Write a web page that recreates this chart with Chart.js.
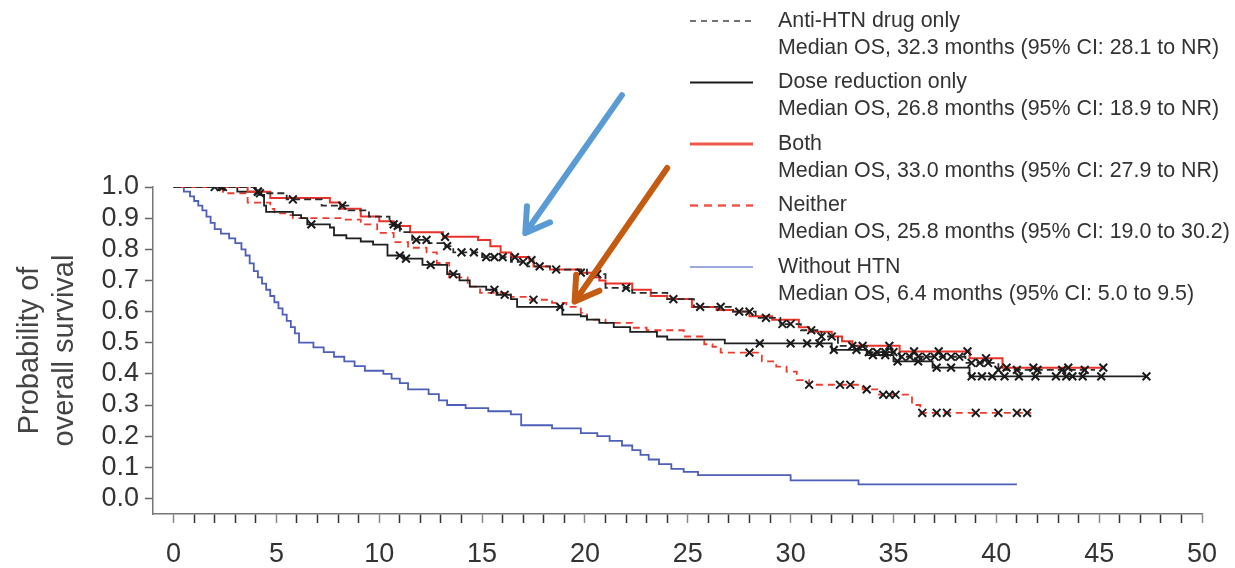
<!DOCTYPE html>
<html>
<head>
<meta charset="utf-8">
<title>Overall survival by HTN management</title>
<script src="https://cdn.jsdelivr.net/npm/chart.js@4.4.0/dist/chart.umd.min.js"></script>
<style>
  html, body { margin: 0; padding: 0; background: #fff; }
  #wrap { width: 1235px; height: 568px; }
</style>
</head>
<body>
<div id="wrap"><canvas id="chart" width="1235" height="568"></canvas></div>
<script>
// Kaplan-Meier steps per group: time of the step (months) and survival after it
const antiTimes = [0, 4.0, 5.5, 7.2, 8.5, 9.5, 10.5, 11.0, 11.6, 12.4, 13.1, 13.6, 15.0, 16.4, 17.2, 18.3, 20.1, 21.0, 22.3, 24.0, 25.3, 27.2, 28.3, 29.5, 30.5, 31.5, 32.3, 33.7, 35.3, 38.5, 40.1, 44.8];
const antiSurv = [1.0, 0.98, 0.96, 0.94, 0.925, 0.905, 0.88, 0.855, 0.83, 0.82, 0.81, 0.79, 0.775, 0.76, 0.745, 0.735, 0.72, 0.676, 0.66, 0.64, 0.615, 0.60, 0.58, 0.56, 0.54, 0.52, 0.49, 0.47, 0.455, 0.435, 0.413, 0.413];

const doseTimes = [0, 3.1, 4.2, 4.4, 4.5, 5.8, 6.2, 6.5, 7.6, 7.8, 8.4, 9.1, 9.7, 10.4, 11.2, 12.1, 13.3, 13.9, 14.4, 15.2, 15.7, 16.4, 16.7, 18.9, 19.8, 20.1, 20.7, 21.4, 22.2, 23.5, 24.0, 26.8, 32.0, 33.7, 35.0, 36.9, 38.7, 47.3];
const doseSurv = [1.0, 0.985, 0.975, 0.94, 0.92, 0.91, 0.90, 0.88, 0.87, 0.845, 0.835, 0.825, 0.815, 0.78, 0.77, 0.75, 0.72, 0.70, 0.68, 0.67, 0.654, 0.64, 0.615, 0.59, 0.585, 0.574, 0.564, 0.55, 0.535, 0.52, 0.51, 0.498, 0.477, 0.46, 0.44, 0.42, 0.392, 0.392];

const bothTimes = [0, 3.6, 4.7, 7.6, 8.1, 9.1, 10.0, 10.7, 11.5, 13.1, 14.8, 15.4, 15.9, 16.4, 17.3, 17.5, 18.3, 19.8, 20.4, 20.7, 21.0, 22.3, 23.2, 24.0, 25.2, 26.4, 27.2, 28.0, 29.1, 30.4, 30.9, 32.0, 32.5, 33.0, 35.3, 38.7, 40.3, 45.3];
const bothSurv = [1.0, 0.985, 0.965, 0.95, 0.93, 0.905, 0.89, 0.875, 0.855, 0.84, 0.83, 0.81, 0.79, 0.775, 0.765, 0.745, 0.735, 0.725, 0.71, 0.70, 0.69, 0.67, 0.65, 0.64, 0.615, 0.605, 0.60, 0.585, 0.574, 0.55, 0.535, 0.52, 0.505, 0.49, 0.472, 0.45, 0.42, 0.42];

const neitherTimes = [0, 2.4, 3.6, 4.7, 4.9, 5.5, 5.8, 8.3, 9.1, 9.9, 10.7, 11.4, 12.3, 12.8, 13.4, 14.3, 14.9, 16.4, 17.2, 18.4, 19.1, 19.8, 20.1, 21.0, 22.3, 23.0, 24.8, 25.8, 26.2, 26.6, 28.6, 29.3, 29.8, 30.3, 30.9, 33.5, 34.3, 35.9, 36.3, 41.7];
const neitherSurv = [1.0, 0.98, 0.95, 0.93, 0.915, 0.91, 0.90, 0.895, 0.88, 0.853, 0.823, 0.805, 0.79, 0.756, 0.71, 0.68, 0.66, 0.647, 0.638, 0.628, 0.615, 0.596, 0.574, 0.564, 0.548, 0.54, 0.52, 0.495, 0.487, 0.468, 0.44, 0.423, 0.407, 0.38, 0.365, 0.35, 0.333, 0.30, 0.275, 0.275];

const withoutTimes = [0, 0.5, 0.8, 1.0, 1.2, 1.4, 1.6, 1.8, 2.0, 2.3, 2.7, 3.0, 3.3, 3.5, 3.7, 3.9, 4.1, 4.3, 4.5, 4.7, 4.9, 5.1, 5.3, 5.5, 5.7, 5.9, 6.1, 6.8, 7.3, 7.8, 8.3, 8.8, 9.3, 10.2, 10.6, 11.0, 11.4, 12.4, 12.9, 13.3, 14.2, 15.3, 16.4, 16.9, 18.4, 19.8, 20.6, 21.2, 21.8, 22.3, 22.7, 23.1, 23.6, 24.2, 24.8, 25.5, 30.0, 33.3, 41.0];
const withoutSurv = [1.0, 0.985, 0.97, 0.955, 0.94, 0.925, 0.905, 0.885, 0.865, 0.85, 0.835, 0.82, 0.80, 0.78, 0.755, 0.73, 0.71, 0.69, 0.67, 0.65, 0.63, 0.61, 0.59, 0.57, 0.55, 0.53, 0.50, 0.485, 0.47, 0.455, 0.44, 0.425, 0.41, 0.40, 0.385, 0.37, 0.35, 0.335, 0.315, 0.30, 0.29, 0.28, 0.27, 0.235, 0.225, 0.21, 0.20, 0.185, 0.17, 0.155, 0.14, 0.125, 0.11, 0.095, 0.085, 0.075, 0.058, 0.045, 0.045];

// Censoring times (months), drawn as x on their curve
const antiCensor = [2.0, 2.3, 4.2, 5.8, 8.2, 10.7, 11.8, 12.3, 13.3, 14.0, 14.6, 15.2, 15.6, 16.0, 17.0, 17.8, 18.6, 20.6, 22.0, 24.3, 26.6, 27.5, 28.0, 28.8, 29.6, 30.0, 31.0, 31.5, 32.0, 33.0, 33.8, 34.2, 34.6, 35.0, 35.4, 35.8, 36.2, 36.6, 37.0, 37.4, 37.8, 38.2, 38.8, 39.2, 39.6, 40.1, 41.0, 42.0, 43.2, 44.3];
const doseCensor = [2.4, 4.1, 6.7, 11.0, 11.3, 12.5, 13.6, 15.6, 16.1, 18.8, 28.5, 30.0, 30.8, 31.4, 32.1, 33.2, 34.0, 34.6, 35.2, 36.2, 37.1, 37.8, 38.8, 39.3, 39.8, 40.4, 41.1, 41.9, 42.9, 43.4, 43.7, 44.2, 45.1, 47.3];
const bothCensor = [4.1, 10.9, 13.2, 16.6, 17.4, 19.8, 25.6, 33.5, 34.8, 36.0, 37.2, 38.6, 39.5, 40.5, 41.8, 43.5, 45.2];
const neitherCensor = [17.5, 28.0, 30.9, 32.4, 32.9, 33.7, 34.5, 34.8, 35.1, 36.4, 37.1, 37.6, 39.0, 40.1, 41.0, 41.5];

// Legend text
const groupNames = ["Anti-HTN drug only", "Dose reduction only", "Both", "Neither", "Without HTN"];
const groupMedians = [
  "Median OS, 32.3 months (95% CI: 28.1 to NR)",
  "Median OS, 26.8 months (95% CI: 18.9 to NR)",
  "Median OS, 33.0 months (95% CI: 27.9 to NR)",
  "Median OS, 25.8 months (95% CI: 19.0 to 30.2)",
  "Median OS, 6.4 months (95% CI: 5.0 to 9.5)"
];

// Axis ticks
const xTickStep = 1;
const yTickStep = 0.1;

// Arrows drawn on the figure, in data units (tail -> head)
const arrows = [
  { from: [21.8, 1.295], to: [17.1, 0.852], color: "#5B9BD5" },
  { from: [24.0, 1.061], to: [19.5, 0.632], color: "#C55A11" }
];

const FONT = "'Liberation Sans', Arial, Helvetica, sans-serif";

// Turn two arrays into {x, y} points
const toPoints = (times, surv) => times.map((t, i) => ({ x: t, y: surv[i] }));

// Survival of a curve at time t (value of the last step at or before t)
const survAt = (times, surv, t) => {
  let s = surv[0];
  for (let i = 0; i < times.length; i++) {
    if (times[i] <= t) s = surv[i];
  }
  return s;
};

const censorPoints = (censor, times, surv) => censor.map((t) => ({ x: t, y: survAt(times, surv, t) }));

// Step curve dataset
const stepSet = (label, times, surv, color, width, dash) => ({
  label: label,
  data: toPoints(times, surv),
  borderColor: color,
  borderWidth: width,
  borderDash: dash,
  stepped: true,
  pointRadius: 0,
  fill: false
});

// Censor marks dataset
const censorSet = (censor, times, surv) => ({
  label: "censored",
  data: censorPoints(censor, times, surv),
  showLine: false,
  pointStyle: "crossRot",
  pointRadius: 5.5,
  pointBorderWidth: 2,
  pointBorderColor: "#1a1a1a",
  borderColor: "#1a1a1a"
});

const datasets = [
  stepSet(groupNames[0], antiTimes, antiSurv, "#2b2b2b", 1.8, [7, 4]),
  stepSet(groupNames[1], doseTimes, doseSurv, "#1f1f1f", 1.8, []),
  stepSet(groupNames[2], bothTimes, bothSurv, "#E8322A", 2, []),
  stepSet(groupNames[3], neitherTimes, neitherSurv, "#EE3B30", 1.8, [7, 5]),
  stepSet(groupNames[4], withoutTimes, withoutSurv, "#4D5FB8", 1.8, []),
  censorSet(neitherCensor, neitherTimes, neitherSurv),
  censorSet(doseCensor, doseTimes, doseSurv),
  censorSet(bothCensor, bothTimes, bothSurv),
  censorSet(antiCensor, antiTimes, antiSurv)
];
// draw order: blue under the rest, dashed black on top
datasets[4].order = 9;
datasets[3].order = 8;
datasets[1].order = 7;
datasets[2].order = 6;
datasets[0].order = 5;

// Legend swatch widths (a bit heavier than in the plot for the red ones)
const legendWidths = [1.3, 2, 3.2, 2.6, 1.4];
const legendColors = ["#444", "#1a1a1a", "#F0584E", "#F0584E", "#7B8BD6"];
const legendDash = [[6, 5], [], [], [8, 6], []];

// Legend drawn in the top right corner
const legendPlugin = {
  id: "kmLegend",
  afterDraw(chart) {
    const ctx = chart.ctx;
    ctx.save();
    groupNames.forEach((name, i) => {
      const y = 21 + i * 61.5;
      ctx.strokeStyle = legendColors[i];
      ctx.lineWidth = legendWidths[i];
      ctx.setLineDash(legendDash[i]);
      ctx.beginPath();
      ctx.moveTo(690, y);
      ctx.lineTo(753, y);
      ctx.stroke();
      ctx.setLineDash([]);
      ctx.fillStyle = "#333";
      ctx.font = "21.4px " + FONT;
      ctx.textBaseline = "middle";
      ctx.textAlign = "left";
      ctx.fillText(name, 778, y);
      ctx.fillText(groupMedians[i], 778, y + 27);
    });
    ctx.restore();
  }
};

// Arrows placed with the chart scales
const arrowPlugin = {
  id: "arrows",
  afterDraw(chart) {
    const ctx = chart.ctx;
    const xs = chart.scales.x;
    const ys = chart.scales.y;
    ctx.save();
    arrows.forEach((a) => {
      const x0 = xs.getPixelForValue(a.from[0]);
      const y0 = ys.getPixelForValue(a.from[1]);
      const x1 = xs.getPixelForValue(a.to[0]);
      const y1 = ys.getPixelForValue(a.to[1]);
      const ang = Math.atan2(y0 - y1, x0 - x1); // direction back to the tail
      const head = 27;
      ctx.strokeStyle = a.color;
      ctx.lineWidth = 6;
      ctx.lineCap = "round";
      ctx.lineJoin = "round";
      ctx.beginPath();
      ctx.moveTo(x0, y0);
      ctx.lineTo(x1, y1);
      ctx.moveTo(x1 + head * Math.cos(ang - 0.55), y1 + head * Math.sin(ang - 0.55));
      ctx.lineTo(x1, y1);
      ctx.lineTo(x1 + head * Math.cos(ang + 0.55), y1 + head * Math.sin(ang + 0.55));
      ctx.stroke();
    });
    ctx.restore();
  }
};

const ctx = document.querySelector("#chart").getContext("2d");
const chart = new Chart(ctx, {
  type: "line",
  data: { datasets: datasets },
  plugins: [legendPlugin, arrowPlugin],
  options: {
    responsive: false,
    animation: false,
    devicePixelRatio: 1,
    layout: { padding: { top: 187, right: 33, left: 0, bottom: 0 } },
    plugins: {
      legend: { display: false },
      tooltip: { enabled: false }
    },
    scales: {
      x: {
        type: "linear",
        min: -1,
        max: 50,
        afterFit: (scale) => { scale.height = 54; },
        border: { display: true, color: "#777", width: 1.5 },
        grid: {
          drawOnChartArea: false,
          drawTicks: true,
          tickLength: 9,
          tickWidth: 1.5,
          tickColor: (c) => (c.tick && c.tick.value < 0 ? "rgba(0,0,0,0)" : (c.tick && c.tick.value % 5 === 0 ? "#888" : "#333"))
        },
        ticks: {
          stepSize: xTickStep,
          autoSkip: false,
          maxRotation: 0,
          minRotation: 0,
          padding: 15,
          color: "#333",
          font: { size: 27, family: FONT },
          callback: (v) => (v >= 0 && v % 5 === 0 ? String(v) : "")
        }
      },
      y: {
        min: -0.05,
        max: 1.0,
        afterFit: (scale) => { scale.width = 153; },
        border: { display: true, color: "#777", width: 1.5 },
        grid: { drawOnChartArea: false, drawTicks: true, tickLength: 8, tickWidth: 1.5, tickColor: "#666" },
        ticks: {
          stepSize: yTickStep,
          includeBounds: false,
          autoSkip: false,
          padding: 6,
          color: "#333",
          font: { size: 27, family: FONT, lineHeight: 1 },
          callback: (v) => (Math.round(v * 10) / 10).toFixed(1)
        },
        title: {
          display: true,
          text: ["Probability of", "overall survival"],
          color: "#444",
          font: { size: 29, family: FONT, lineHeight: 1.22 },
          padding: { top: 12, bottom: 0 }
        }
      }
    }
  }
});
</script>
</body>
</html>
